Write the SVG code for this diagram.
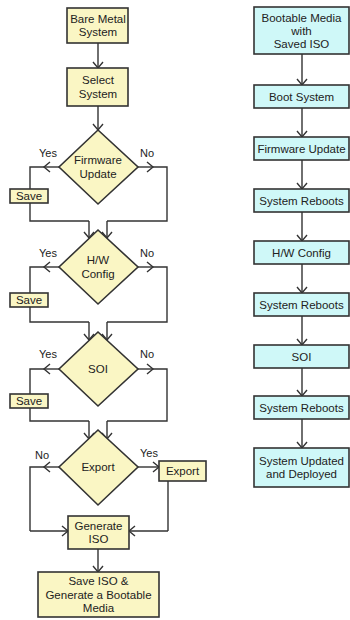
<svg xmlns="http://www.w3.org/2000/svg" width="350" height="620" viewBox="0 0 350 620">
<defs>
<marker id="ah" markerUnits="userSpaceOnUse" markerWidth="12" markerHeight="12" refX="6" refY="5" orient="auto" overflow="visible">
<path d="M0,0 L6,5 L0,10" fill="none" stroke="#333" stroke-width="1.4"/>
</marker>
</defs>
<style>
.y{fill:#FAF6C4;stroke:#333;stroke-width:1.6}
.c{fill:#CFF8F8;stroke:#333;stroke-width:1.6}
.t{font-family:"Liberation Sans",Arial,sans-serif;font-size:11.5px;fill:#222;text-anchor:middle}
.l{font-family:"Liberation Sans",Arial,sans-serif;font-size:11px;fill:#222;text-anchor:middle}
.k{fill:none;stroke:#333;stroke-width:1.4}
.a{fill:none;stroke:#333;stroke-width:1.4;marker-end:url(#ah)}
</style>
<rect width="350" height="620" fill="#fff"/>
<g id="connectors">
<path class="a" d="M98,43 V68"/>
<path class="a" d="M98,106 V130"/>
<path class="a" d="M59,167 H44"/>
<path class="k" d="M44,167 H30 V221 H89"/>
<path class="a" d="M89,221 V238"/>
<path class="a" d="M138,167 H153"/>
<path class="k" d="M153,167 H167 V221 H107"/>
<path class="a" d="M107,221 V238"/>
<path class="a" d="M59,267 H44"/>
<path class="k" d="M44,267 H30 V322 H89"/>
<path class="a" d="M89,322 V340"/>
<path class="a" d="M138,267 H153"/>
<path class="k" d="M153,267 H167 V322 H107"/>
<path class="a" d="M107,322 V340"/>
<path class="a" d="M59,369 H44"/>
<path class="k" d="M44,369 H30 V421 H89"/>
<path class="a" d="M89,421 V439"/>
<path class="a" d="M138,369 H153"/>
<path class="k" d="M153,369 H167 V421 H107"/>
<path class="a" d="M107,421 V439"/>
<path class="a" d="M59,467 H44"/>
<path class="k" d="M44,467 H30 V531"/>
<path class="a" d="M30,531 H68"/>
<path class="a" d="M138,467 H159"/>
<path class="k" d="M168,481 V531"/>
<path class="a" d="M168,531 H129"/>
<path class="a" d="M98,549 V572"/>
<path class="a" d="M302,54 V85"/>
<path class="a" d="M302,108 V137"/>
<path class="a" d="M302,160 V189"/>
<path class="a" d="M302,212 V241"/>
<path class="a" d="M302,264 V293"/>
<path class="a" d="M302,316 V345"/>
<path class="a" d="M302,368 V396"/>
<path class="a" d="M302,419 V448"/>
</g>
<g id="bare-metal"><rect class="y" x="67" y="8" width="61" height="35"/><text class="t" x="98" y="23">Bare Metal</text><text class="t" x="98" y="36.3">System</text></g>
<g id="select-system"><rect class="y" x="67" y="68" width="61" height="38"/><text class="t" x="98" y="84.4">Select</text><text class="t" x="98" y="97.7">System</text></g>
<g id="firmware-update"><polygon class="y" points="98,130 138,167 98,204 59,167"/><text class="t" x="98" y="164.4">Firmware</text><text class="t" x="98" y="177.7">Update</text></g>
<g id="yes1"><text class="l" x="48" y="157">Yes</text></g>
<g id="no1"><text class="l" x="147" y="157">No</text></g>
<g id="save1"><rect class="y" x="10" y="189" width="38" height="14"/><text class="t" x="29" y="200.3">Save</text></g>
<g id="hw-config"><polygon class="y" points="98,230 138,267 98,304 59,267"/><text class="t" x="98" y="264.4">H/W</text><text class="t" x="98" y="277.7">Config</text></g>
<g id="yes2"><text class="l" x="48" y="257">Yes</text></g>
<g id="no2"><text class="l" x="147" y="257">No</text></g>
<g id="save2"><rect class="y" x="10" y="293" width="38" height="14"/><text class="t" x="29" y="304.3">Save</text></g>
<g id="soi"><polygon class="y" points="98,332 138,369 98,406 59,369"/><text class="t" x="98" y="373">SOI</text></g>
<g id="yes3"><text class="l" x="48" y="358">Yes</text></g>
<g id="no3"><text class="l" x="147" y="358">No</text></g>
<g id="save3"><rect class="y" x="10" y="394" width="38" height="14"/><text class="t" x="29" y="405.3">Save</text></g>
<g id="export-decision"><polygon class="y" points="98,430 138,467 98,505 59,467"/><text class="t" x="98" y="471">Export</text></g>
<g id="no4"><text class="l" x="42" y="459">No</text></g>
<g id="yes4"><text class="l" x="149" y="457">Yes</text></g>
<g id="export"><rect class="y" x="159" y="461" width="47" height="20"/><text class="t" x="182.5" y="475.3">Export</text></g>
<g id="generate-iso"><rect class="y" x="68" y="516" width="61" height="33"/><text class="t" x="98.5" y="530">Generate</text><text class="t" x="98.5" y="543.3">ISO</text></g>
<g id="save-iso"><rect class="y" x="38" y="572" width="121" height="45"/><text class="t" x="98.5" y="585.2">Save ISO &amp;</text><text class="t" x="98.5" y="598.5">Generate a Bootable</text><text class="t" x="98.5" y="611.8">Media</text></g>
<g id="bootable-media"><rect class="c" x="254" y="7" width="95" height="47"/><text class="t" x="301.5" y="21.5">Bootable Media</text><text class="t" x="301.5" y="34.8">with</text><text class="t" x="301.5" y="48.1">Saved ISO</text></g>
<g id="boot-system"><rect class="c" x="254" y="85" width="95" height="23"/><text class="t" x="301.5" y="100.5">Boot System</text></g>
<g id="fw-update"><rect class="c" x="254" y="137" width="95" height="23"/><text class="t" x="301.5" y="152.5">Firmware Update</text></g>
<g id="reboot1"><rect class="c" x="254" y="189" width="95" height="23"/><text class="t" x="301.5" y="204.5">System Reboots</text></g>
<g id="hw-config-r"><rect class="c" x="254" y="241" width="95" height="23"/><text class="t" x="301.5" y="256.5">H/W Config</text></g>
<g id="reboot2"><rect class="c" x="254" y="293" width="95" height="23"/><text class="t" x="301.5" y="308.5">System Reboots</text></g>
<g id="soi-r"><rect class="c" x="254" y="345" width="95" height="23"/><text class="t" x="301.5" y="360.5">SOI</text></g>
<g id="reboot3"><rect class="c" x="254" y="396" width="95" height="23"/><text class="t" x="301.5" y="411.5">System Reboots</text></g>
<g id="updated"><rect class="c" x="254" y="448" width="95" height="39"/><text class="t" x="301.5" y="465">System Updated</text><text class="t" x="301.5" y="478.3">and Deployed</text></g>
</svg>
